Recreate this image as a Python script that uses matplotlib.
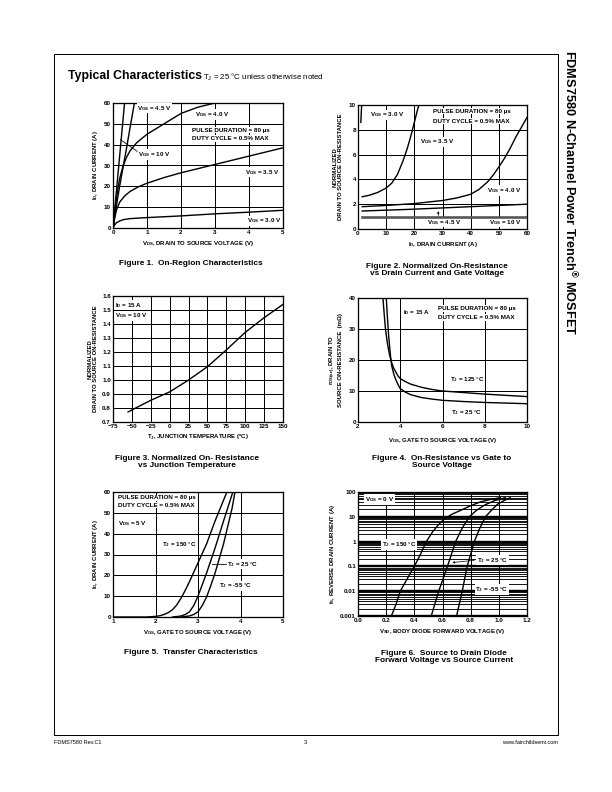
import matplotlib
matplotlib.use('Agg')
import matplotlib.pyplot as plt
from matplotlib.patches import Rectangle

plt.rcParams['font.family'] = ['Liberation Sans', 'DejaVu Sans']
plt.rcParams['mathtext.default'] = 'regular'

# ---- Figure 1: on-region characteristics (ID vs VDS) ----
f1_vds_10 = [0, 0.34]
f1_id_10 = [0, 60]
f1_vds_45 = [0, 0.1, 0.2, 0.3, 0.4, 0.5, 0.63]
f1_id_45 = [0, 10.5, 20.5, 29.5, 38.5, 48, 60]
f1_vds_40 = [0, 0.05, 0.1, 0.15, 0.2, 0.3, 0.4, 0.5, 0.7, 1.0, 1.5, 2.0, 2.5, 3.0]
f1_id_40 = [0, 7.5, 14, 19.5, 24, 30, 34, 37, 41, 45, 50, 55, 58, 60]
f1_vds_35 = [0, 0.05, 0.1, 0.2, 0.35, 0.5, 0.75, 1.0, 1.5, 2.0, 3.0, 4.0, 5.0]
f1_id_35 = [0, 5, 8.5, 12.5, 15.5, 17.5, 19.8, 21.5, 24.2, 26.5, 30.5, 34.5, 38.5]
f1_vds_30 = [0, 0.05, 0.1, 0.2, 0.3, 0.5, 1.0, 2.0, 3.0, 4.0, 5.0]
f1_id_30 = [0, 1.5, 2.5, 3.4, 4.0, 4.5, 5.0, 5.8, 6.8, 7.6, 8.5]

# ---- Figure 2: normalized on-resistance vs ID ----
f2_id_30 = [1.0, 1.3]
f2_r_30 = [8.6, 10]
f2_id_35 = [1.5, 4, 7, 10, 12, 14, 16, 17.5, 19, 20, 21, 22]
f2_r_35 = [2.6, 2.72, 2.95, 3.3, 3.7, 4.4, 5.5, 6.5, 7.7, 8.6, 9.5, 10.3]
f2_id_40 = [1.5, 10, 20, 30, 35, 40, 43, 46, 48, 50, 52, 54, 56, 58, 60]
f2_r_40 = [1.8, 1.9, 2.05, 2.3, 2.5, 2.8, 3.2, 3.8, 4.35, 5.0, 5.7, 6.5, 7.4, 8.2, 9.0]
f2_id_45 = [1.5, 20, 40, 60]
f2_r_45 = [1.45, 1.6, 1.8, 2.0]
f2_id_10 = [1.5, 60]
f2_r_10 = [1.0, 1.0]

# ---- Figure 3: normalized on-resistance vs TJ ----
f3_tj = [-55, -25, 0, 25, 50, 75, 100, 125, 150]
f3_r = [0.772, 0.855, 0.915, 1.0, 1.095, 1.215, 1.34, 1.445, 1.54]

# ---- Figure 4: rDS(on) vs VGS ----
f4_vgs_25 = [3.34, 3.38, 3.45, 3.5, 3.55, 3.6, 3.7, 3.8, 3.9, 4.0, 4.25, 4.5, 5, 5.5, 6, 7, 8, 10]
f4_r_25 = [40, 35, 28, 24, 20.5, 18, 15.3, 13.5, 12, 10.8, 9.6, 8.8, 7.9, 7.4, 7.0, 6.6, 6.3, 5.9]
f4_vgs_125 = [3.18, 3.25, 3.3, 3.4, 3.5, 3.6, 3.7, 3.8, 3.9, 4.0, 4.25, 4.5, 5, 5.5, 6, 7, 8, 10]
f4_r_125 = [40, 34, 30, 25, 21.5, 19, 17.2, 16, 14.8, 14, 13, 12.2, 11.2, 10.5, 10, 9.5, 9.0, 8.2]

# ---- Figure 5: transfer characteristics ----
f5_vgs_150 = [1.0, 1.8, 2.0, 2.1, 2.2, 2.3, 2.4, 2.5, 2.6, 2.7, 2.8, 2.9, 3.0, 3.2, 3.4, 3.6, 3.68]
f5_id_150 = [0, 0, 0.3, 0.6, 1.2, 2.1, 3.5, 5.8, 9, 12.8, 17, 21.5, 26, 35, 46, 56, 60]
f5_vgs_25 = [2.4, 2.5, 2.6, 2.7, 2.8, 2.9, 3.0, 3.1, 3.2, 3.4, 3.6, 3.82]
f5_id_25 = [0, 0.2, 0.5, 1.2, 2.5, 5.5, 10, 15.5, 21, 33, 46, 60]
f5_vgs_m55 = [2.6, 2.8, 2.9, 3.0, 3.1, 3.2, 3.3, 3.4, 3.6, 3.8, 3.87]
f5_id_m55 = [0, 0.5, 1.2, 2.5, 5.5, 9.5, 15, 21, 35, 52, 60]

# ---- Figure 6: body diode forward voltage ----
f6_vsd_150 = [0.237, 0.27, 0.30, 0.35, 0.40, 0.445, 0.485, 0.53, 0.57, 0.61, 0.67, 0.727,
              0.8, 0.87, 0.94, 1.01]
f6_is_150 = [0.001, 0.003, 0.01, 0.032, 0.1, 0.32, 1, 2.5, 4.7, 8, 13, 18, 28, 40, 50, 59]
f6_vsd_25 = [0.52, 0.573, 0.635, 0.693, 0.74, 0.79, 0.84, 0.9, 0.97, 1.045]
f6_is_25 = [0.001, 0.01, 0.1, 1, 3.5, 10, 18, 30, 45, 59]
f6_vsd_m55 = [0.70, 0.74, 0.775, 0.826, 0.865, 0.905, 0.95, 0.99, 1.04, 1.08]
f6_is_m55 = [0.001, 0.01, 0.1, 1, 3.5, 10, 19, 32, 46, 59]
f6_yticks = [0.001, 0.01, 0.1, 1, 10, 100]
f6_ylabels = ['0.001', '0.01', '0.1', '1', '10', '100']

W, H = 612, 792
fig = plt.figure(figsize=(W / 72, H / 72), dpi=72)

TICK_FS = 6.2
LAB_FS = 6.0
NOTE_FS = 6.2
CAP_FS = 8.3
CURVE_LW = 1.4
GRID_LW = 1.0
BOX = dict(facecolor='white', edgecolor='none', pad=0.6)


def px_axes(l, t, r, b):
    return fig.add_axes([l / W, 1 - b / H, (r - l) / W, (b - t) / H])


def style(ax, xt, yt):
    ax.set_xticks(xt)
    ax.set_yticks(yt)
    ax.tick_params(length=0, labelsize=TICK_FS, pad=2)
    for lab in ax.get_xticklabels() + ax.get_yticklabels():
        lab.set_fontweight('bold')
    for s in ax.spines.values():
        s.set_linewidth(1.3)
    ax.grid(True, color='k', lw=GRID_LW)
    ax.set_axisbelow(True)


def note(ax, x, y, s, **kw):
    ax.text(x, y, s, fontsize=NOTE_FS, fontweight='bold', bbox=BOX,
            va='center', zorder=5, **kw)


def caption(x, y, s):
    fig.text(x / W, 1 - y / H, s, fontsize=CAP_FS, fontweight='bold',
             ha='center', va='center', linespacing=1.1)


# page frame
fig.patches.append(Rectangle((54 / W, 1 - 735 / H), 504 / W, 681 / H,
                             transform=fig.transFigure, fill=False, lw=1.0, color='k'))

fig.text(68 / W, 1 - 76 / H, 'Typical Characteristics', fontsize=12.2,
         fontweight='bold', va='center')
fig.text(203 / W, 1 - 77.5 / H, 'T$_J$ = 25 °C unless otherwise noted',
         fontsize=7.9, va='center')
fig.text(570 / W, 1 - 50 / H, 'FDMS7580 N-Channel Power Trench$^{®}$ MOSFET',
         fontsize=12.8, fontweight='bold', rotation=-90, ha='center', va='top')

fig.text(54 / W, 1 - 743 / H, 'FDMS7580 Rev.C1', fontsize=5.5, va='center')
fig.text(305 / W, 1 - 743 / H, '3', fontsize=5.5, va='center', ha='center')
fig.text(558 / W, 1 - 743 / H, 'www.fairchildsemi.com', fontsize=5.5,
         va='center', ha='right')

# ---- Figure 1 ----
ax1 = px_axes(113, 103, 283, 228)
for xs, ys in [(f1_vds_10, f1_id_10), (f1_vds_45, f1_id_45), (f1_vds_40, f1_id_40),
               (f1_vds_35, f1_id_35), (f1_vds_30, f1_id_30)]:
    ax1.plot(xs, ys, color='k', lw=CURVE_LW)
ax1.set_xlim(0, 5)
ax1.set_ylim(0, 60)
style(ax1, [0, 1, 2, 3, 4, 5], [0, 10, 20, 30, 40, 50, 60])
note(ax1, 0.72, 57.5, 'V$_{GS}$ = 4.5 V')
note(ax1, 2.42, 54.5, 'V$_{GS}$ = 4.0 V')
note(ax1, 2.32, 47.0, 'PULSE DURATION = 80 µs')
note(ax1, 2.32, 43.0, 'DUTY CYCLE = 0.5% MAX')
note(ax1, 0.75, 35.3, 'V$_{GS}$ = 10 V')
ax1.plot([0.22, 0.71], [42.4, 36.8], color='k', lw=0.8, zorder=6)
note(ax1, 3.89, 26.7, 'V$_{GS}$ = 3.5 V')
note(ax1, 3.94, 3.4, 'V$_{GS}$ = 3.0 V')
ax1.set_xlabel('V$_{DS}$, DRAIN TO SOURCE VOLTAGE (V)', fontsize=LAB_FS,
               fontweight='bold', labelpad=4)
ax1.set_ylabel('I$_D$, DRAIN CURRENT (A)', fontsize=LAB_FS, fontweight='bold', labelpad=4)
caption(191, 264, 'Figure 1.  On-Region Characteristics')

# ---- Figure 2 ----
ax2 = px_axes(358, 105, 527, 229)
for xs, ys in [(f2_id_30, f2_r_30), (f2_id_35, f2_r_35), (f2_id_40, f2_r_40),
               (f2_id_45, f2_r_45)]:
    ax2.plot(xs, ys, color='k', lw=CURVE_LW)
ax2.plot(f2_id_10, f2_r_10, color='#555555', lw=2.6, zorder=6)
ax2.set_xlim(0, 60)
ax2.set_ylim(0, 10)
style(ax2, [0, 10, 20, 30, 40, 50, 60], [0, 2, 4, 6, 8, 10])
note(ax2, 4.4, 9.2, 'V$_{GS}$ = 3.0 V')
note(ax2, 26.8, 9.5, 'PULSE DURATION = 80 µs')
note(ax2, 26.8, 8.7, 'DUTY CYCLE = 0.5% MAX')
note(ax2, 22.0, 7.05, 'V$_{GS}$ = 3.5 V')
note(ax2, 45.8, 3.1, 'V$_{GS}$ = 4.0 V')
note(ax2, 24.5, 0.55, 'V$_{GS}$ = 4.5 V')
note(ax2, 46.4, 0.55, 'V$_{GS}$ = 10 V')
ax2.annotate('', xy=(28.5, 1.6), xytext=(28.5, 0.9),
             arrowprops=dict(arrowstyle='-|>', lw=0.7, color='k',
                             mutation_scale=4), zorder=7)
ax2.set_xlabel('I$_D$, DRAIN CURRENT (A)', fontsize=LAB_FS, fontweight='bold', labelpad=4)
ax2.set_ylabel('NORMALIZED\nDRAIN TO SOURCE ON-RESISTANCE', fontsize=LAB_FS,
               fontweight='bold', labelpad=6, linespacing=1.05)
caption(437, 270, 'Figure 2. Normalized On-Resistance\nvs Drain Current and Gate Voltage')

# ---- Figure 3 ----
ax3 = px_axes(113, 296, 283, 422)
ax3.plot(f3_tj, f3_r, color='k', lw=CURVE_LW)
ax3.set_xlim(-75, 150)
ax3.set_ylim(0.7, 1.6)
style(ax3, [-75, -50, -25, 0, 25, 50, 75, 100, 125, 150],
      [0.7, 0.8, 0.9, 1.0, 1.1, 1.2, 1.3, 1.4, 1.5, 1.6])
ax3.set_yticklabels(['0.7', '0.8', '0.9', '1.0', '1.1', '1.2', '1.3', '1.4', '1.5', '1.6'],
                    fontweight='bold')
note(ax3, -73, 1.535, 'I$_D$ = 15 A')
note(ax3, -73, 1.46, 'V$_{GS}$ = 10 V')
ax3.set_xlabel('T$_J$, JUNCTION TEMPERATURE ($^o$C)', fontsize=LAB_FS,
               fontweight='bold', labelpad=4)
ax3.set_ylabel('NORMALIZED\nDRAIN TO SOURCE ON-RESISTANCE', fontsize=LAB_FS,
               fontweight='bold', labelpad=4, linespacing=1.05)
caption(187, 462, 'Figure 3. Normalized On- Resistance\nvs Junction Temperature')

# ---- Figure 4 ----
ax4 = px_axes(358, 298, 527, 422)
ax4.plot(f4_vgs_25, f4_r_25, color='k', lw=CURVE_LW)
ax4.plot(f4_vgs_125, f4_r_125, color='k', lw=CURVE_LW)
ax4.set_xlim(2, 10)
ax4.set_ylim(0, 40)
style(ax4, [2, 4, 6, 8, 10], [0, 10, 20, 30, 40])
note(ax4, 4.12, 35.3, 'I$_D$ = 15 A')
note(ax4, 5.8, 36.6, 'PULSE DURATION = 80 µs')
note(ax4, 5.8, 33.7, 'DUTY CYCLE = 0.5% MAX')
note(ax4, 6.35, 13.6, 'T$_J$ = 125 °C')
note(ax4, 6.4, 3.1, 'T$_J$ = 25 °C')
ax4.set_xlabel('V$_{GS}$, GATE TO SOURCE VOLTAGE (V)', fontsize=LAB_FS,
               fontweight='bold', labelpad=7)
ax4.set_ylabel('r$_{DS(on)}$, DRAIN TO\nSOURCE ON-RESISTANCE  (mΩ)', fontsize=LAB_FS,
               fontweight='bold', labelpad=6, linespacing=1.05)
caption(442, 462, 'Figure 4.  On-Resistance vs Gate to\nSource Voltage')

# ---- Figure 5 ----
ax5 = px_axes(113, 492, 283, 617)
for xs, ys in [(f5_vgs_150, f5_id_150), (f5_vgs_25, f5_id_25), (f5_vgs_m55, f5_id_m55)]:
    ax5.plot(xs, ys, color='k', lw=CURVE_LW)
ax5.set_xlim(1, 5)
ax5.set_ylim(0, 60)
style(ax5, [1, 2, 3, 4, 5], [0, 10, 20, 30, 40, 50, 60])
note(ax5, 1.11, 57.3, 'PULSE DURATION = 80 µs')
note(ax5, 1.11, 53.6, 'DUTY CYCLE = 0.5% MAX')
note(ax5, 1.11, 44.8, 'V$_{DS}$ = 5 V')
note(ax5, 2.15, 35.0, 'T$_J$ = 150 °C')
note(ax5, 3.68, 25.3, 'T$_J$ = 25 °C')
ax5.plot([3.33, 3.66], [25.5, 25.5], color='k', lw=0.8, zorder=6)
note(ax5, 3.49, 15.0, 'T$_J$ = -55 °C')
ax5.set_xlabel('V$_{GS}$, GATE TO SOURCE VOLTAGE (V)', fontsize=LAB_FS,
               fontweight='bold', labelpad=4)
ax5.set_ylabel('I$_D$, DRAIN CURRENT (A)', fontsize=LAB_FS, fontweight='bold', labelpad=4)
caption(191, 652, 'Figure 5.  Transfer Characteristics')

# ---- Figure 6 ----
ax6 = px_axes(358, 492, 527, 616)
ax6.set_yscale('log')
for xs, ys in [(f6_vsd_150, f6_is_150), (f6_vsd_25, f6_is_25), (f6_vsd_m55, f6_is_m55)]:
    ax6.plot(xs, ys, color='k', lw=CURVE_LW)
ax6.set_xlim(0, 1.2)
ax6.set_ylim(0.001, 100)
style(ax6, [0, 0.2, 0.4, 0.6, 0.8, 1.0, 1.2], f6_yticks)
ax6.set_yticklabels(f6_ylabels, fontweight='bold')
ax6.set_xticklabels(['0.0', '0.2', '0.4', '0.6', '0.8', '1.0', '1.2'], fontweight='bold')
ax6.yaxis.set_minor_locator(matplotlib.ticker.LogLocator(base=10, subs=range(2, 10)))
ax6.yaxis.set_minor_formatter(matplotlib.ticker.NullFormatter())
ax6.tick_params(which='minor', length=0)
ax6.grid(True, which='major', axis='y', color='k', lw=2.4)
ax6.grid(True, which='minor', axis='y', color='k', lw=0.9)
note(ax6, 0.05, 50, 'V$_{GS}$ = 0 V')
note(ax6, 0.17, 0.76, 'T$_J$ = 150 °C')
note(ax6, 0.845, 0.18, 'T$_J$ = 25 °C')
ax6.annotate('', xy=(0.656, 0.14), xytext=(0.84, 0.18),
             arrowprops=dict(arrowstyle='-|>', lw=0.7, color='k',
                             mutation_scale=4), zorder=6)
note(ax6, 0.833, 0.0117, 'T$_J$ = -55 °C')
ax6.set_xlabel('V$_{SD}$, BODY DIODE FORWARD VOLTAGE (V)', fontsize=LAB_FS,
               fontweight='bold', labelpad=4)
ax6.set_ylabel('I$_S$, REVERSE DRAIN CURRENT (A)', fontsize=LAB_FS,
               fontweight='bold', labelpad=3)
caption(444, 657, 'Figure 6.  Source to Drain Diode\nForward Voltage vs Source Current')

fig.savefig('out.png', dpi=72)
